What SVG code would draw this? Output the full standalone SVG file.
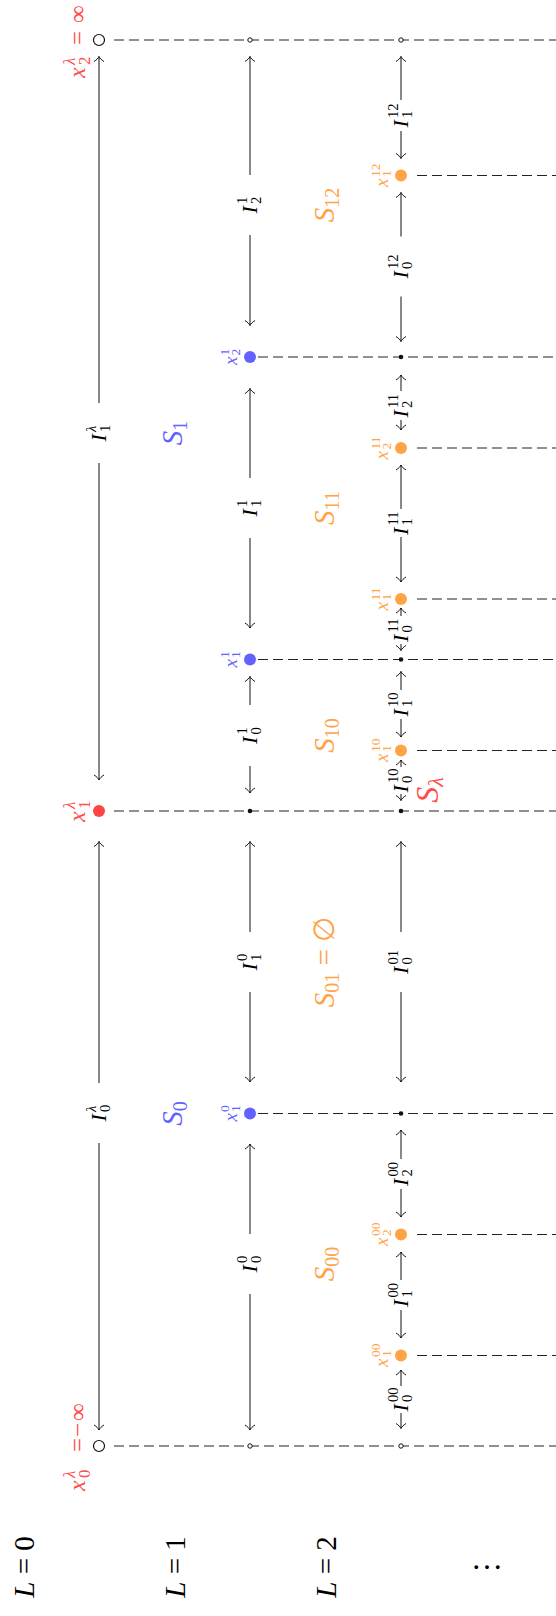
<svg xmlns="http://www.w3.org/2000/svg" width="556" height="1616" viewBox="0 0 556 1616">
<style>
text{font-family:"Liberation Serif","DejaVu Serif",serif;fill:#000}
.d{stroke:#222;stroke-width:1.1;stroke-dasharray:10 5;fill:none}
.a{stroke:#111;stroke-width:1;fill:none;marker-start:url(#ah)}
.iI{font-size:22px;font-style:italic}
.is{font-size:14.5px}
.px{font-size:19px;font-style:italic}
.ps{font-size:13.5px}
.rx{font-size:24px;font-style:italic}
.rs{font-size:17px}
.rm{font-size:25px}
.S{font-size:29px;font-style:italic;text-anchor:middle}
.Ss{font-size:20px;font-style:normal}
.Si{font-size:22px;font-style:italic}
.L{font-size:29px;text-anchor:middle}
.red text,text.red{fill:#ff4d4d}
.blue text,text.blue{fill:#6262ff}
.org text,text.org{fill:#ffa347}
.it{font-style:italic}
.ocL{fill:#fff;stroke:#111;stroke-width:1.2}
.oc{fill:#fff;stroke:#111;stroke-width:1}
.bd{fill:#111}
</style>
<defs>
<marker id="ah" viewBox="-7 -7 9 14" markerWidth="9" markerHeight="14" refX="0" refY="0" orient="auto-start-reverse" markerUnits="userSpaceOnUse">
<path d="M-5,-5 C-3.5,-2.5 -1.5,-0.6 0,0 C-1.5,0.6 -3.5,2.5 -5,5" fill="none" stroke="#111" stroke-width="1"/>
</marker>
</defs>

<g id="connectors">
<path class="d" d="M114,40H556"/>
<path class="d" d="M417,175.5H556"/>
<path class="d" d="M258,357H556"/>
<path class="d" d="M417,448H556"/>
<path class="d" d="M417,599H556"/>
<path class="d" d="M258,659.5H556"/>
<path class="d" d="M417,750.5H556"/>
<path class="d" d="M114,811H556"/>
<path class="d" d="M258,1113.5H556"/>
<path class="d" d="M417,1234.5H556"/>
<path class="d" d="M417,1355.5H556"/>
<path class="d" d="M114,1446H556"/>
<path class="a" d="M99,56.5V403"/><path class="a" d="M99,780V463"/>
<path class="a" d="M99,841.5V1083"/><path class="a" d="M99,1430V1143"/>
<path class="a" d="M250,56.5V175"/><path class="a" d="M250,325.5V235"/>
<path class="a" d="M250,388.5V478"/><path class="a" d="M250,628V538"/>
<path class="a" d="M250,676.5V705"/><path class="a" d="M250,793V766"/>
<path class="a" d="M250,841.5V932"/><path class="a" d="M250,1082V992"/>
<path class="a" d="M250,1144V1234"/><path class="a" d="M250,1430V1294"/>
<path class="a" d="M401,56.5V100"/><path class="a" d="M401,158.5V131"/>
<path class="a" d="M401,192.5V236.5"/><path class="a" d="M401,341.5V296.5"/>
<path class="a" d="M401,375V391"/><path class="a" d="M401,430V420"/>
<path class="a" d="M401,465V509"/><path class="a" d="M401,582V537"/>
<path class="a" d="M401,608V616"/><path class="a" d="M401,650.5V644"/>
<path class="a" d="M401,671.5V690"/><path class="a" d="M401,737V719"/>
<path class="a" d="M401,760V767"/><path class="a" d="M401,800.5V794"/>
<path class="a" d="M401,841.5V932"/><path class="a" d="M401,1082V992"/>
<path class="a" d="M401,1130V1159"/><path class="a" d="M401,1217V1189"/>
<path class="a" d="M401,1252V1280"/><path class="a" d="M401,1338V1310"/>
<path class="a" d="M401,1370V1386"/><path class="a" d="M401,1428.5V1413"/>
</g>

<g id="interval-labels">
<g transform="translate(99,433) rotate(-90)"><text class="iI" x="-8.5" y="7">I</text><text class="is it" x="1" y="-3">λ</text><text class="is" x="1" y="11">1</text></g>
<g transform="translate(99,1113) rotate(-90)"><text class="iI" x="-8.5" y="7">I</text><text class="is it" x="1" y="-3">λ</text><text class="is" x="1" y="11">0</text></g>
<g transform="translate(250,205) rotate(-90)"><text class="iI" x="-8.5" y="7">I</text><text class="is" x="1" y="-3">1</text><text class="is" x="1" y="11">2</text></g>
<g transform="translate(250,508) rotate(-90)"><text class="iI" x="-8.5" y="7">I</text><text class="is" x="1" y="-3">1</text><text class="is" x="1" y="11">1</text></g>
<g transform="translate(250,735.5) rotate(-90)"><text class="iI" x="-8.5" y="7">I</text><text class="is" x="1" y="-3">1</text><text class="is" x="1" y="11">0</text></g>
<g transform="translate(250,962) rotate(-90)"><text class="iI" x="-8.5" y="7">I</text><text class="is" x="1" y="-3">0</text><text class="is" x="1" y="11">1</text></g>
<g transform="translate(250,1264) rotate(-90)"><text class="iI" x="-8.5" y="7">I</text><text class="is" x="1" y="-3">0</text><text class="is" x="1" y="11">0</text></g>
<g transform="translate(401,115.5) rotate(-90)"><text class="iI" x="-12" y="7">I</text><text class="is" x="-2.5" y="-3">12</text><text class="is" x="-2.5" y="11">1</text></g>
<g transform="translate(401,266.5) rotate(-90)"><text class="iI" x="-12" y="7">I</text><text class="is" x="-2.5" y="-3">12</text><text class="is" x="-2.5" y="11">0</text></g>
<g transform="translate(401,405.5) rotate(-90)"><text class="iI" x="-12" y="7">I</text><text class="is" x="-2.5" y="-3">11</text><text class="is" x="-2.5" y="11">2</text></g>
<g transform="translate(401,523) rotate(-90)"><text class="iI" x="-12" y="7">I</text><text class="is" x="-2.5" y="-3">11</text><text class="is" x="-2.5" y="11">1</text></g>
<g transform="translate(401,630) rotate(-90)"><text class="iI" x="-12" y="7">I</text><text class="is" x="-2.5" y="-3">11</text><text class="is" x="-2.5" y="11">0</text></g>
<g transform="translate(401,704.5) rotate(-90)"><text class="iI" x="-12" y="7">I</text><text class="is" x="-2.5" y="-3">10</text><text class="is" x="-2.5" y="11">1</text></g>
<g transform="translate(401,780.5) rotate(-90)"><text class="iI" x="-12" y="7">I</text><text class="is" x="-2.5" y="-3">10</text><text class="is" x="-2.5" y="11">0</text></g>
<g transform="translate(401,962) rotate(-90)"><text class="iI" x="-12" y="7">I</text><text class="is" x="-2.5" y="-3">01</text><text class="is" x="-2.5" y="11">0</text></g>
<g transform="translate(401,1174) rotate(-90)"><text class="iI" x="-12" y="7">I</text><text class="is" x="-2.5" y="-3">00</text><text class="is" x="-2.5" y="11">2</text></g>
<g transform="translate(401,1295) rotate(-90)"><text class="iI" x="-12" y="7">I</text><text class="is" x="-2.5" y="-3">00</text><text class="is" x="-2.5" y="11">1</text></g>
<g transform="translate(401,1399.5) rotate(-90)"><text class="iI" x="-12" y="7">I</text><text class="is" x="-2.5" y="-3">00</text><text class="is" x="-2.5" y="11">0</text></g>
</g>

<g id="x2-lambda" class="red">
<circle class="ocL" cx="99" cy="40" r="5.5"/>
<g transform="translate(80,40) rotate(-90)"><text class="rx" x="-38" y="5">x</text><text class="rs it" x="-25" y="-5">λ</text><text class="rs" x="-25" y="10">2</text><text class="rm" x="-5" y="6">=</text><text class="rm" x="17" y="6">∞</text></g>
</g>
<g id="x1-lambda" class="red">
<circle cx="99" cy="811" r="6" fill="#ff4444"/>
<g transform="translate(80,811) rotate(-90)"><text class="rx" x="-11" y="5">x</text><text class="rs it" x="2" y="-5">λ</text><text class="rs" x="2" y="10">1</text></g>
</g>
<g id="x0-lambda" class="red">
<circle class="ocL" cx="99" cy="1446" r="5.5"/>
<g transform="translate(80,1446) rotate(-90)"><text class="rx" x="-45" y="5">x</text><text class="rs it" x="-32" y="-5">λ</text><text class="rs" x="-32" y="10">0</text><text class="rm" x="-6" y="6">=</text><text class="rm" x="9" y="6">−</text><text class="rm" x="25" y="6">∞</text></g>
</g>

<g id="l1-top"><circle class="oc" cx="250" cy="40" r="2.2"/></g>
<g id="x2-1" class="blue">
<circle cx="250" cy="357" r="6" fill="#6262ff"/>
<g transform="translate(233,357) rotate(-90)"><text class="px" x="-8" y="4">x</text><text class="ps" x="1.5" y="-4">1</text><text class="ps" x="1.5" y="7">2</text></g>
</g>
<g id="x1-1" class="blue">
<circle cx="250" cy="659.5" r="6" fill="#6262ff"/>
<g transform="translate(233,659.5) rotate(-90)"><text class="px" x="-8" y="4">x</text><text class="ps" x="1.5" y="-4">1</text><text class="ps" x="1.5" y="7">1</text></g>
</g>
<g id="l1-mid"><circle class="bd" cx="250" cy="811" r="2.3"/></g>
<g id="x1-0" class="blue">
<circle cx="250" cy="1113.5" r="6" fill="#6262ff"/>
<g transform="translate(233,1113.5) rotate(-90)"><text class="px" x="-8" y="4">x</text><text class="ps" x="1.5" y="-4">0</text><text class="ps" x="1.5" y="7">1</text></g>
</g>
<g id="l1-bot"><circle class="oc" cx="250" cy="1446" r="2.2"/></g>

<g id="l2-top"><circle class="oc" cx="401" cy="40" r="2.2"/></g>
<g id="x1-12" class="org">
<circle cx="401" cy="175.5" r="6" fill="#ffa347"/>
<g transform="translate(384,175.5) rotate(-90)"><text class="px" x="-11.5" y="4">x</text><text class="ps" x="-1.5" y="-4">12</text><text class="ps" x="-1.5" y="7">1</text></g>
</g>
<g id="l2-d1"><circle class="bd" cx="401" cy="357" r="2.3"/></g>
<g id="x2-11" class="org">
<circle cx="401" cy="448" r="6" fill="#ffa347"/>
<g transform="translate(384,448) rotate(-90)"><text class="px" x="-11.5" y="4">x</text><text class="ps" x="-1.5" y="-4">11</text><text class="ps" x="-1.5" y="7">2</text></g>
</g>
<g id="x1-11" class="org">
<circle cx="401" cy="599" r="6" fill="#ffa347"/>
<g transform="translate(384,599) rotate(-90)"><text class="px" x="-11.5" y="4">x</text><text class="ps" x="-1.5" y="-4">11</text><text class="ps" x="-1.5" y="7">1</text></g>
</g>
<g id="l2-d2"><circle class="bd" cx="401" cy="659.5" r="2.3"/></g>
<g id="x1-10" class="org">
<circle cx="401" cy="750.5" r="6" fill="#ffa347"/>
<g transform="translate(384,750.5) rotate(-90)"><text class="px" x="-11.5" y="4">x</text><text class="ps" x="-1.5" y="-4">10</text><text class="ps" x="-1.5" y="7">1</text></g>
</g>
<g id="l2-d3"><circle class="bd" cx="401" cy="811" r="2.3"/></g>
<g id="l2-d4"><circle class="bd" cx="401" cy="1113.5" r="2.3"/></g>
<g id="x2-00" class="org">
<circle cx="401" cy="1234.5" r="6" fill="#ffa347"/>
<g transform="translate(384,1234.5) rotate(-90)"><text class="px" x="-11.5" y="4">x</text><text class="ps" x="-1.5" y="-4">00</text><text class="ps" x="-1.5" y="7">2</text></g>
</g>
<g id="x1-00" class="org">
<circle cx="401" cy="1355.5" r="6" fill="#ffa347"/>
<g transform="translate(384,1355.5) rotate(-90)"><text class="px" x="-11.5" y="4">x</text><text class="ps" x="-1.5" y="-4">00</text><text class="ps" x="-1.5" y="7">1</text></g>
</g>
<g id="l2-bot"><circle class="oc" cx="401" cy="1446" r="2.2"/></g>

<g id="regions">
<g transform="translate(429,790) rotate(-90)"><text class="S red" y="9" style="font-size:32px">S<tspan class="Si" dy="5">λ</tspan></text></g>
<g transform="translate(174,433) rotate(-90)"><text class="S blue" y="8">S<tspan class="Ss" dy="5">1</tspan></text></g>
<g transform="translate(174,1113.5) rotate(-90)"><text class="S blue" y="8">S<tspan class="Ss" dy="5">0</tspan></text></g>
<g transform="translate(326,205) rotate(-90)"><text class="S org" y="8">S<tspan class="Ss" dy="5">12</tspan></text></g>
<g transform="translate(326,508) rotate(-90)"><text class="S org" y="8">S<tspan class="Ss" dy="5">11</tspan></text></g>
<g transform="translate(326,735.5) rotate(-90)"><text class="S org" y="8">S<tspan class="Ss" dy="5">10</tspan></text></g>
<g transform="translate(326,962) rotate(-90)"><text class="S org" y="8">S<tspan class="Ss" dy="5">01</tspan><tspan dy="-5" font-style="normal"> = ∅</tspan></text></g>
<g transform="translate(326,1264) rotate(-90)"><text class="S org" y="8">S<tspan class="Ss" dy="5">00</tspan></text></g>
</g>

<g id="levels">
<g transform="translate(24,1567) rotate(-90)"><text class="L" y="10"><tspan font-style="italic">L</tspan> = 0</text></g>
<g transform="translate(175,1567) rotate(-90)"><text class="L" y="10"><tspan font-style="italic">L</tspan> = 1</text></g>
<g transform="translate(326,1567) rotate(-90)"><text class="L" y="10"><tspan font-style="italic">L</tspan> = 2</text></g>
<text class="L" x="487" y="1569" style="font-size:32px">…</text>
</g>
</svg>
